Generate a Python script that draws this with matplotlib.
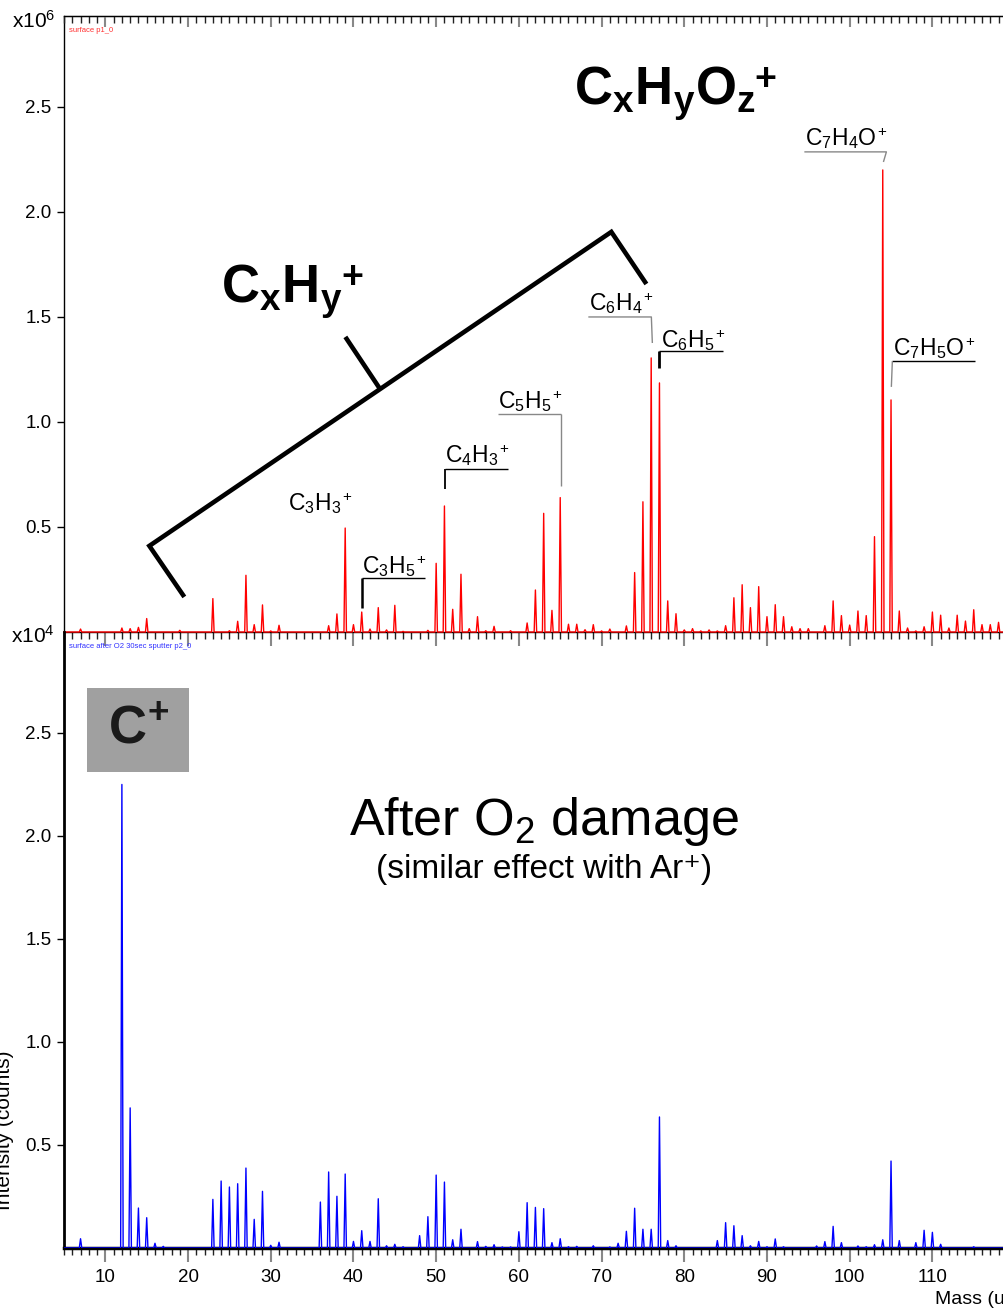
import matplotlib
matplotlib.use("Agg")
import matplotlib.pyplot as plt
from matplotlib.ticker import MultipleLocator, FixedLocator, FormatStrFormatter, NullFormatter
from matplotlib.patches import Rectangle

plt.rcParams['font.family'] = ['Liberation Sans', 'DejaVu Sans']
plt.rcParams['mathtext.fontset'] = 'custom'
plt.rcParams['mathtext.rm'] = 'Liberation Sans'
plt.rcParams['mathtext.it'] = 'Liberation Sans:italic'
plt.rcParams['mathtext.bf'] = 'Liberation Sans:bold'

# ---------------- data ----------------
# top spectrum: "surface p1_0"  (intensity in units of 1e6 counts)
top_mass = [7, 12, 13, 14, 15, 19, 23, 25, 26, 27, 28, 29, 30, 31, 37, 38, 39, 40, 41, 42,
            43, 44, 45, 46, 49, 50, 51, 52, 53, 54, 55, 56, 57, 59, 61, 62, 63, 64, 65, 66,
            67, 68, 69, 70, 71, 73, 74, 75, 76, 77, 78, 79, 80, 81, 82, 83, 84, 85, 86, 87,
            88, 89, 90, 91, 92, 93, 94, 95, 97, 98, 99, 100, 101, 102, 103, 104, 105, 106,
            107, 108, 109, 110, 111, 112, 113, 114, 115, 116, 117, 118]
top_int = [0.014, 0.019, 0.016, 0.022, 0.064, 0.008, 0.159, 0.006, 0.051, 0.27, 0.035, 0.129,
           0.005, 0.032, 0.03, 0.086, 0.495, 0.035, 0.095, 0.014, 0.116, 0.01, 0.127, 0.003,
           0.008, 0.327, 0.60, 0.108, 0.275, 0.016, 0.073, 0.006, 0.027, 0.006, 0.043, 0.20,
           0.565, 0.103, 0.64, 0.037, 0.037, 0.011, 0.035, 0.005, 0.014, 0.029, 0.283, 0.62,
           1.305, 1.186, 0.148, 0.087, 0.01, 0.016, 0.005, 0.01, 0.005, 0.03, 0.163, 0.225,
           0.116, 0.216, 0.073, 0.13, 0.073, 0.025, 0.016, 0.016, 0.03, 0.148, 0.078, 0.033,
           0.1, 0.078, 0.454, 2.20, 1.105, 0.1, 0.019, 0.005, 0.025, 0.095, 0.08, 0.019,
           0.08, 0.052, 0.106, 0.035, 0.035, 0.046]

# bottom spectrum: "surface after O2 30sec sputter p2_0" (intensity in units of 1e4 counts)
bot_mass = [7, 12, 13, 14, 15, 16, 17, 23, 24, 25, 26, 27, 28, 29, 30, 31, 36, 37, 38, 39,
            40, 41, 42, 43, 44, 45, 46, 48, 49, 50, 51, 52, 53, 55, 56, 57, 58, 59, 60, 61,
            62, 63, 64, 65, 66, 67, 69, 71, 72, 73, 74, 75, 76, 77, 78, 79, 84, 85, 86, 87,
            88, 89, 90, 91, 92, 96, 97, 98, 99, 101, 102, 103, 104, 105, 106, 108, 109, 110,
            111, 115]
bot_int = [0.045, 2.25, 0.68, 0.194, 0.147, 0.023, 0.008, 0.236, 0.325, 0.296, 0.312, 0.388,
           0.139, 0.275, 0.013, 0.028, 0.223, 0.369, 0.251, 0.359, 0.032, 0.084, 0.032, 0.239,
           0.011, 0.018, 0.006, 0.06, 0.152, 0.354, 0.32, 0.04, 0.091, 0.031, 0.008, 0.016,
           0.005, 0.005, 0.079, 0.22, 0.197, 0.191, 0.026, 0.045, 0.006, 0.008, 0.011, 0.005,
           0.023, 0.081, 0.193, 0.091, 0.091, 0.636, 0.036, 0.011, 0.036, 0.123, 0.108, 0.06,
           0.011, 0.032, 0.006, 0.044, 0.006, 0.01, 0.031, 0.105, 0.026, 0.01, 0.006, 0.016,
           0.04, 0.422, 0.036, 0.026, 0.086, 0.076, 0.018, 0.006]

x_ticks = [10, 20, 30, 40, 50, 60, 70, 80, 90, 100, 110, 120]
y_ticks = [0.5, 1.0, 1.5, 2.0, 2.5]

XMIN, XMAX = 5.0, 118.66
W, H = 1004, 1309


def profile(masses, heights, half_width=0.15):
    xs, ys = [XMIN], [0.0]
    for m, h in zip(masses, heights):
        xs += [m - half_width, m, m + half_width]
        ys += [0.0, h, 0.0]
    xs.append(XMAX)
    ys.append(0.0)
    return xs, ys


def style_xticks(ax, direction):
    ax.xaxis.set_major_locator(FixedLocator(x_ticks))
    ax.xaxis.set_minor_locator(MultipleLocator(1))
    ax.tick_params(axis='x', which='major', direction=direction, length=10, width=1.5,
                   color='#888888', labelsize=13.5, pad=5)
    ax.tick_params(axis='x', which='minor', direction=direction, length=5, width=1,
                   color='#222222')


def formula(ax, x, y, s, fs, plus_fs, bold=False, dx=0.5, dy=0.0):
    weight = 'bold' if bold else 'normal'
    t = ax.text(x, y, s, fontsize=fs, fontweight=weight, ha='left', va='baseline', zorder=5)
    ax.annotate('+', xy=(1, 1), xycoords=t, xytext=(dx, dy), textcoords='offset points',
                ha='left', va='top', fontsize=plus_fs, fontweight=weight, zorder=5)
    return t


fig = plt.figure(figsize=(W / 100, H / 100), dpi=100)
left = 64 / W
width = 1 - left
ax_top = fig.add_axes([left, (H - 632) / H, width, (632 - 16) / H])
ax_bot = fig.add_axes([left, (H - 1248) / H, width, (1248 - 632) / H])
ax_bot.patch.set_visible(False)

# --- spectra ---
xs, ys = profile(top_mass, top_int)
ax_top.plot(xs, ys, color='#ff0000', lw=1.0, zorder=3, clip_on=False)
xs, ys = profile(bot_mass, bot_int)
ax_bot.plot(xs, ys, color='#0000ff', lw=1.0, zorder=3)

ax_top.set_ylim(0, 2.933)
ax_bot.set_ylim(0, 2.99)
for ax in (ax_top, ax_bot):
    ax.set_xlim(XMIN, XMAX)
    style_xticks(ax, 'out')
    ax.yaxis.set_major_locator(FixedLocator(y_ticks))
    ax.yaxis.set_major_formatter(FormatStrFormatter('%.1f'))
    ax.spines['right'].set_visible(False)
    ax.tick_params(axis='y', which='major', direction='out', length=5, width=1,
                   labelsize=13.5, pad=4, colors='black')

ax_top.tick_params(axis='x', which='both', labelbottom=False)
ax_top.spines['left'].set_linewidth(1.0)
ax_top.spines['top'].set_linewidth(1.0)
ax_top.spines['bottom'].set_linewidth(1.0)

# inward ticks along the top edge of the upper panel
ax_tt = ax_top.twiny()
ax_tt.set_xlim(XMIN, XMAX)
style_xticks(ax_tt, 'in')
ax_tt.tick_params(axis='x', which='major', length=8)
ax_tt.xaxis.set_major_formatter(NullFormatter())
for sp in ('right', 'left', 'bottom'):
    ax_tt.spines[sp].set_visible(False)

ax_bot.spines['top'].set_visible(False)
ax_bot.spines['left'].set_linewidth(2.0)
ax_bot.spines['bottom'].set_linewidth(2.5)

# offset labels
fig.text(55 / W, (H - 28) / H, r'x10$^6$', ha='right', va='baseline', fontsize=15)
fig.text(55 / W, (H - 643) / H, r'x10$^4$', ha='right', va='baseline', fontsize=15)

# small spectrum names
fig.text(69 / W, (H - 30) / H, 'surface p1_0', color='#ff3030', fontsize=5.5,
         ha='left', va='center')
fig.text(69 / W, (H - 646) / H, 'surface after O2 30sec sputter p2_0', color='#3030ff',
         fontsize=5.5, ha='left', va='center')

# axis labels (cut at figure border like the reference)
fig.text(10 / W, (H - 1130) / H, 'Intensity (counts)', rotation=90, rotation_mode='anchor',
         ha='center', va='baseline', fontsize=15)
fig.text(935 / W, (H - 1304) / H, 'Mass (u)', ha='left', va='baseline', fontsize=14)

# --- top panel annotations ---
formula(ax_top, 66.71, 2.51, r'C$_\mathbf{x}$H$_\mathbf{y}$O$_\mathbf{z}$', 38, 27,
        bold=True, dx=-1, dy=2)
formula(ax_top, 24.03, 1.567, r'C$_\mathbf{x}$H$_\mathbf{y}$', 38, 27,
        bold=True, dx=-1, dy=2)

# bracket grouping C_xH_y peaks
ax_top.plot([19.55, 15.32, 71.18, 75.42], [0.167, 0.41, 1.905, 1.657], color='black',
            lw=3.3, solid_joinstyle='miter', solid_capstyle='butt', zorder=4)
ax_top.plot([43.13, 39.02], [1.162, 1.405], color='black', lw=3.3,
            solid_capstyle='butt', zorder=4)

lab_fs = 16.5
labels = [
    (32.13, 0.581, r'C$_3$H$_3$'),
    (41.08, 0.281, r'C$_3$H$_5$'),
    (51.11, 0.81, r'C$_4$H$_3$'),
    (57.52, 1.067, r'C$_5$H$_5$'),
    (68.53, 1.533, r'C$_6$H$_4$'),
    (77.23, 1.357, r'C$_6$H$_5$'),
    (94.64, 2.319, r'C$_7$H$_4$O'),
    (105.28, 1.319, r'C$_7$H$_5$O'),
]
for x, y, s in labels:
    formula(ax_top, x, y, s, lab_fs, 11, dx=0.3, dy=0.5)

# leader lines: (x list, y list, color, lw)
leaders = [
    ([41.08, 48.69], [0.257, 0.257], 'black', 1.0),
    ([41.08, 41.08], [0.257, 0.114], 'black', 1.8),
    ([51.11, 58.73], [0.776, 0.776], 'black', 1.0),
    ([51.11, 51.11], [0.776, 0.681], 'black', 1.3),
    ([57.52, 65.14], [1.038, 1.038], '#888888', 1.0),
    ([65.14, 65.14], [1.038, 0.695], '#888888', 1.0),
    ([68.40, 76.02, 76.14], [1.50, 1.50, 1.376], '#888888', 1.0),
    ([77.0, 84.73], [1.338, 1.338], 'black', 1.0),
    ([77.0, 77.0], [1.338, 1.257], 'black', 2.0),
    ([94.52, 104.44, 104.08], [2.286, 2.286, 2.238], '#888888', 1.0),
    ([105.16, 115.20], [1.29, 1.29], 'black', 1.0),
    ([105.16, 105.04], [1.29, 1.167], '#888888', 1.0),
]
for lx, ly, c, lw in leaders:
    ax_top.plot(lx, ly, color=c, lw=lw, zorder=4, solid_capstyle='butt')

# --- bottom panel annotations ---
ax_bot.add_patch(Rectangle((7.82, 2.31), 20.16 - 7.82, 2.72 - 2.31, facecolor='#a0a0a0',
                           edgecolor='none', zorder=2))
ax_bot.text(13.99, 2.518, r'$\mathbf{C^{\!+}}$', fontsize=38, ha='center', va='center',
            color='#1a1a1a', zorder=5)
ax_bot.text(63.08, 2.005, r'After O$_2$ damage', fontsize=37.5, ha='center', va='baseline')
ax_bot.text(63.08, 1.797, '(similar effect with Ar⁺)', fontsize=24, ha='center',
            va='baseline')

fig.savefig('out.png', dpi=100)
